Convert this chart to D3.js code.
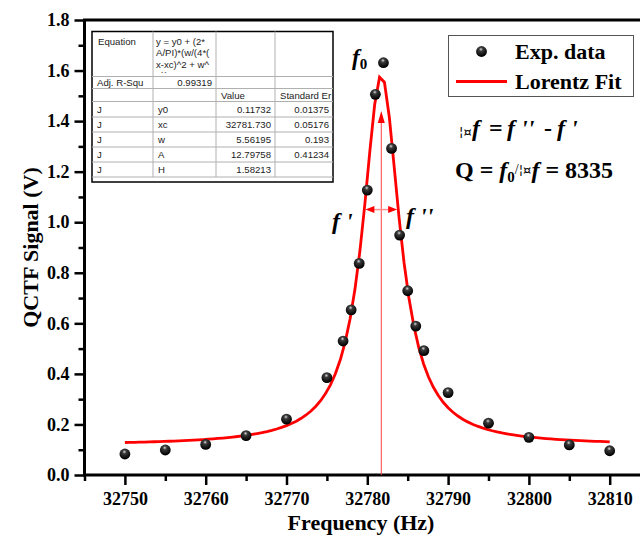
<!DOCTYPE html>
<html>
<head>
<meta charset="utf-8">
<script src="https://cdn.jsdelivr.net/npm/d3@7/dist/d3.min.js"></script>
<style>
  html, body { margin: 0; padding: 0; background: #fff; }
  svg { display: block; }
  .tick text { font-family: "Liberation Serif", serif; font-weight: bold; font-size: 18px; fill: #000; }
  .tick line { stroke: #000; stroke-width: 2.5; }
  .cell { font-family: "Liberation Sans", Arial, sans-serif; font-size: 9.6px; fill: #222; }
  .serif { font-family: "Liberation Serif", serif; font-weight: bold; fill: #000; }
  .delta { font-family: "DejaVu Sans", sans-serif; font-weight: normal; font-size: 13px; }
</style>
</head>
<body>
<script>
// Measured resonance points
const freqs  = [32750, 32755, 32760, 32765, 32770, 32775, 32777, 32778, 32779, 32780, 32781,
                32782, 32783, 32784, 32785, 32786, 32787, 32790, 32795, 32800, 32805, 32810];
const signal = [0.083, 0.099, 0.121, 0.156, 0.221, 0.385, 0.530, 0.653, 0.837, 1.127, 1.506,
                1.631, 1.292, 0.949, 0.729, 0.589, 0.492, 0.326, 0.205, 0.149, 0.119, 0.096];

// Lorentz fit result
const fitNames  = ['y0', 'xc', 'w', 'A', 'H'];
const fitValues = [0.11732, 32781.730, 5.56195, 12.79758, 1.58213];
const fitErrors = ['0.01375', '0.05176', '0.193', '0.41234', ''];
const fitValueText = ['0.11732', '32781.730', '5.56195', '12.79758', '1.58213'];
const adjR2 = '0.99319';
const equationLines = ['y = y0 + (2*', 'A/PI)*(w/(4*(', 'x-xc)^2 + w^', '2))'];
const fitRange = [32750, 32810];
const fitPoints = 100;

const qFactor = 8335;
const arrowLevel = 1.05;
const peakArrowTop = 1.44;

const xTicks = [32750, 32760, 32770, 32780, 32790, 32800, 32810];
const xMinor = [32745, 32755, 32765, 32775, 32785, 32795, 32805];
const yTicks = [0, 0.2, 0.4, 0.6, 0.8, 1.0, 1.2, 1.4, 1.6, 1.8];
const yMinor = [0.1, 0.3, 0.5, 0.7, 0.9, 1.1, 1.3, 1.5, 1.7];

const W = 640, H = 540;
const m = { left: 84.5, top: 20, bottom: 475 };

const svg = d3.select('body').append('svg')
  .attr('width', W).attr('height', H);

const defs = svg.append('defs');
const ball = defs.append('radialGradient').attr('id', 'ball')
  .attr('cx', '45%').attr('cy', '30%').attr('r', '65%');
ball.append('stop').attr('offset', '0%').attr('stop-color', '#d8d8d8');
ball.append('stop').attr('offset', '28%').attr('stop-color', '#3a3a3a');
ball.append('stop').attr('offset', '100%').attr('stop-color', '#000');

const x = d3.scaleLinear().domain([32745, 32815]).range([m.left, m.left + 70 * 8.08]);
const y = d3.scaleLinear().domain([0, 1.8]).range([m.bottom, m.top]);

// Axes (ticks outward)
svg.append('g').attr('transform', `translate(0,${m.bottom})`)
  .call(d3.axisBottom(x).tickValues(xMinor).tickSize(6).tickFormat(''))
  .call(g => g.select('.domain').remove());
svg.append('g').attr('transform', `translate(0,${m.bottom})`)
  .call(d3.axisBottom(x).tickValues(xTicks).tickSize(10).tickPadding(7).tickFormat(d3.format('d')))
  .call(g => g.select('.domain').remove());

svg.append('g').attr('transform', `translate(${m.left},0)`)
  .call(d3.axisLeft(y).tickValues(yMinor).tickSize(6).tickFormat(''))
  .call(g => g.select('.domain').remove());
svg.append('g').attr('transform', `translate(${m.left},0)`)
  .call(d3.axisLeft(y).tickValues(yTicks).tickSize(10).tickPadding(5).tickFormat(d3.format('.1f')))
  .call(g => g.select('.domain').remove());

// Frame
svg.append('rect')
  .attr('x', m.left).attr('y', m.top)
  .attr('width', x.range()[1] - m.left).attr('height', m.bottom - m.top)
  .attr('fill', 'none').attr('stroke', '#000').attr('stroke-width', 3);

// Axis titles
svg.append('text').attr('class', 'serif')
  .attr('x', 361).attr('y', 530).attr('text-anchor', 'middle')
  .style('font-size', '22px').text('Frequency (Hz)');
svg.append('text').attr('class', 'serif')
  .attr('transform', `translate(38,${(m.top + m.bottom) / 2}) rotate(-90)`)
  .attr('text-anchor', 'middle')
  .style('font-size', '22px').text('QCTF Signal (V)');

// Fit table
const table = svg.append('g');
const tx = [92, 153, 216, 275, 333];
const rowH = [45, 12, 13, 15.5, 15, 15, 15, 15];
const ty = [31.5];
rowH.forEach(h => ty.push(ty[ty.length - 1] + h));

table.append('rect').attr('x', 92).attr('y', 31.5).attr('width', 241).attr('height', 150.5)
  .attr('fill', '#fff').attr('stroke', '#000').attr('stroke-width', 1.5);
ty.slice(1).forEach(v => table.append('line')
  .attr('x1', 92).attr('x2', 333).attr('y1', v).attr('y2', v)
  .attr('stroke', '#b0b0b0').attr('stroke-width', 1));
tx.slice(1, 4).forEach(v => table.append('line')
  .attr('x1', v).attr('x2', v).attr('y1', 31.5).attr('y2', ty[ty.length - 1])
  .attr('stroke', '#b0b0b0').attr('stroke-width', 1));

const cell = (txt, col, row, anchor) => {
  const right = anchor === 'end';
  table.append('text').attr('class', 'cell')
    .attr('x', right ? tx[col + 1] - 4 : tx[col] + 5)
    .attr('y', (ty[row] + ty[row + 1]) / 2 + 3.5)
    .attr('text-anchor', right ? 'end' : 'start')
    .text(txt);
};

table.append('text').attr('class', 'cell').attr('x', 98).attr('y', 45).text('Equation');
defs.append('clipPath').attr('id', 'eqclip')
  .append('rect').attr('x', 153).attr('y', 31.5).attr('width', 63).attr('height', 41.5);
const eq = table.append('g').attr('clip-path', 'url(#eqclip)');
equationLines.forEach((l, i) => eq.append('text').attr('class', 'cell')
  .attr('x', 156).attr('y', 44.5 + i * 11.6).text(l));

cell('Adj. R-Squ', 0, 1);
cell(adjR2, 1, 1, 'end');
cell('Value', 2, 2);
cell('Standard Er', 3, 2);
fitNames.forEach((n, i) => {
  cell('J', 0, 3 + i);
  cell(n, 1, 3 + i);
  cell(fitValueText[i], 2, 3 + i, 'end');
  cell(fitErrors[i], 3, 3 + i, 'end');
});

// Lorentz curve from the fitted parameters
const [y0, xc, w, A] = fitValues;
const lorentz = f => y0 + (2 * A / Math.PI) * (w / (4 * (f - xc) ** 2 + w * w));
const curve = d3.range(fitPoints).map(i => {
  const f = fitRange[0] + i * (fitRange[1] - fitRange[0]) / (fitPoints - 1);
  return [f, lorentz(f)];
});

// Center line and width arrows
const df = xc / qFactor;
const f1 = xc - df / 2, f2 = xc + df / 2;
svg.append('line')
  .attr('x1', x(xc)).attr('x2', x(xc)).attr('y1', y(0)).attr('y2', y(peakArrowTop) + 10)
  .attr('stroke', '#ff4040').attr('stroke-width', 1);
svg.append('path')
  .attr('d', `M${x(xc)},${y(peakArrowTop)} l-3.5,12 l7,0 Z`)
  .attr('fill', '#ff0000');
svg.append('line')
  .attr('x1', x(f1) + 7).attr('x2', x(f2) - 7).attr('y1', y(arrowLevel)).attr('y2', y(arrowLevel))
  .attr('stroke', '#ff9090').attr('stroke-width', 1.5);
svg.append('path')
  .attr('d', `M${x(f1)},${y(arrowLevel)} l9,-3.5 l0,7 Z`).attr('fill', '#ff0000');
svg.append('path')
  .attr('d', `M${x(f2)},${y(arrowLevel)} l-9,-3.5 l0,7 Z`).attr('fill', '#ff0000');

svg.append('path')
  .datum(curve)
  .attr('fill', 'none').attr('stroke', '#ff0000').attr('stroke-width', 2.8)
  .attr('stroke-linejoin', 'miter')
  .attr('d', d3.line().x(d => x(d[0])).y(d => y(d[1])));

// Data points
svg.append('g').selectAll('circle')
  .data(freqs.map((f, i) => [f, signal[i]]))
  .join('circle')
  .attr('cx', d => x(d[0])).attr('cy', d => y(d[1]))
  .attr('r', 5.4).attr('fill', 'url(#ball)');

// Peak and width labels
const f0 = svg.append('text').attr('class', 'serif').attr('x', 352).attr('y', 65);
f0.append('tspan').style('font-style', 'italic').style('font-size', '23px').text('f');
f0.append('tspan').attr('dy', 4).style('font-size', '15px').text('0');

svg.append('text').attr('class', 'serif').attr('x', 332).attr('y', 229)
  .style('font-style', 'italic').style('font-size', '24px').text("f '");
svg.append('text').attr('class', 'serif').attr('x', 406).attr('y', 224)
  .style('font-style', 'italic').style('font-size', '24px').text("f ''");

// Legend
const lg = svg.append('g');
lg.append('rect').attr('x', 448.5).attr('y', 35.5).attr('width', 185).attr('height', 61)
  .attr('fill', '#fff').attr('stroke', '#555').attr('stroke-width', 1);
lg.append('circle').attr('cx', 481.5).attr('cy', 51.5).attr('r', 5.4).attr('fill', 'url(#ball)');
lg.append('text').attr('class', 'serif').attr('x', 515).attr('y', 59)
  .style('font-size', '22px').text('Exp. data');
lg.append('line').attr('x1', 456).attr('x2', 507).attr('y1', 81.5).attr('y2', 81.5)
  .attr('stroke', '#ff0000').attr('stroke-width', 3);
lg.append('text').attr('class', 'serif').attr('x', 515).attr('y', 89)
  .style('font-size', '22px').text('Lorentz Fit');

// Quality factor notes
const l1 = svg.append('text').attr('class', 'serif').attr('y', 136).style('font-size', '24px');
l1.append('tspan').attr('x', 459).attr('class', 'delta').text('¦¤');
l1.append('tspan').attr('x', 472).style('font-style', 'italic').text('f');
l1.append('tspan').attr('x', 489).text('=');
l1.append('tspan').attr('x', 507).style('font-style', 'italic').text("f ''");
l1.append('tspan').attr('x', 544).text('-');
l1.append('tspan').attr('x', 557).style('font-style', 'italic').text("f '");

const l2 = svg.append('text').attr('class', 'serif').attr('x', 455).attr('y', 178).style('font-size', '24px');
l2.append('tspan').text('Q = ');
l2.append('tspan').style('font-style', 'italic').text('f');
l2.append('tspan').attr('dy', 4).style('font-size', '15px').text('0');
l2.append('tspan').attr('dy', -8).style('font-size', '14px').style('font-weight', 'normal').text('/');
l2.append('tspan').attr('class', 'delta').text('¦¤');
l2.append('tspan').attr('dy', 4).style('font-style', 'italic').text('f');
l2.append('tspan').text(' = ' + qFactor);
</script>
</body>
</html>
